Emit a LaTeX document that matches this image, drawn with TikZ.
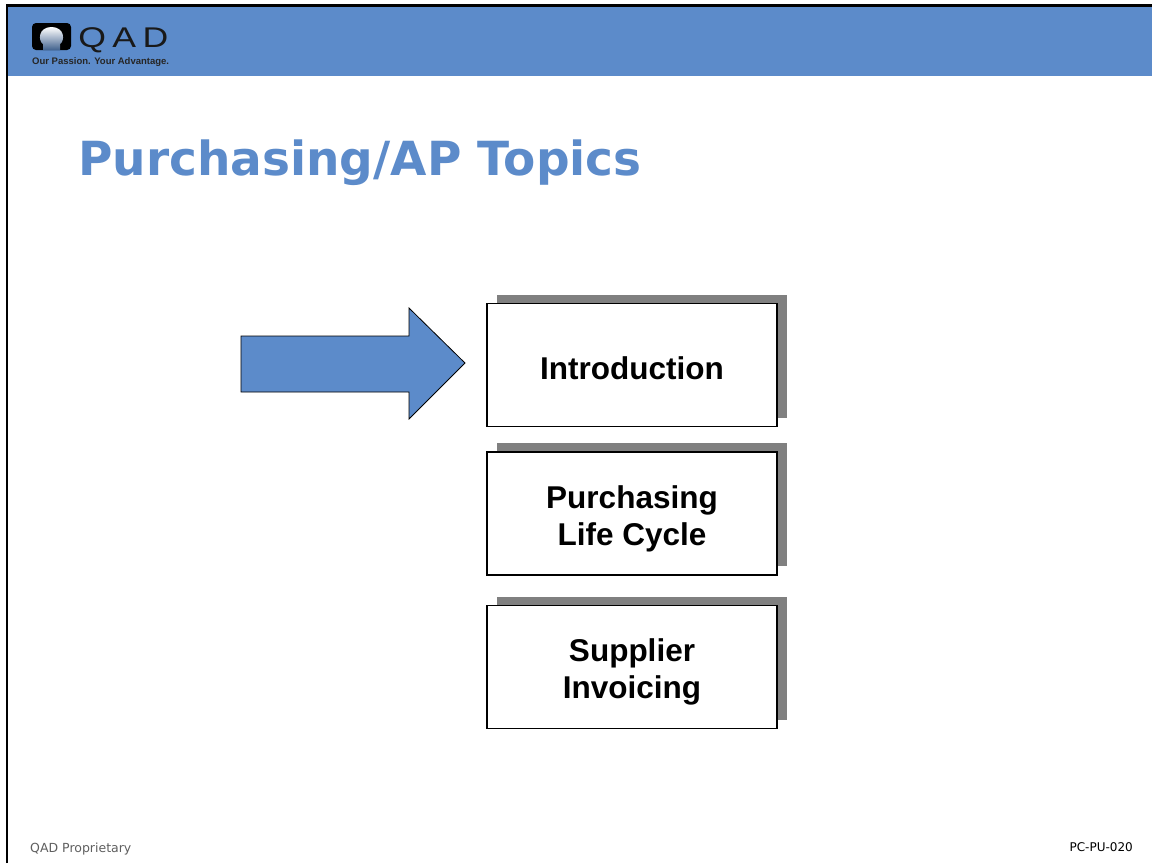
\documentclass[tikz,border=0pt]{standalone}
\usepackage{fontspec}
\setmainfont{Liberation Sans}
\newfontfamily\HeadFont{DejaVu Sans}
\usepackage{tikz}
\usetikzlibrary{shadows}
\usepackage{xcolor}
\definecolor{ColHead}{RGB}{92,139,202}
\definecolor{ColShade}{RGB}{128,128,128}
\definecolor{ColFoot}{RGB}{95,95,95}
\tikzstyle{TopicBox}=[draw=black,fill=white,line width=1.2pt,minimum width=290pt,
minimum height=123pt,align=center,font=\bfseries\fontsize{31.5}{37}\selectfont,
drop shadow={shadow xshift=10pt,shadow yshift=9pt,opacity=1,fill=ColShade}]
\tikzstyle{OneLine}=[text height=30pt]
\tikzstyle{TwoLine}=[text height=70pt]
\tikzstyle{FootText}=[inner sep=0pt,font=\HeadFont\fontsize{12.5}{14}\selectfont]
\begin{document}
\begin{tikzpicture}[x=1pt,y=-1pt]
        \useasboundingbox[fill=white](0,0)rectangle(1152,863);
        % header band and frame
        \fill[ColHead](8,6)rectangle(1152,76);
        \draw[line width=2.5pt](7,863)--(7,5.3)--(1152,5.3);
        % logo
        \fill[black,rounded corners=4pt](32,23)rectangle(71,50);
        \shade[top color=white,bottom color=ColHead!70!black](43,50)--(43,44)
            .. controls (38,41) and (38,27) .. (51.5,27)
            .. controls (65,27) and (65,41) .. (60,44)--(60,50)--cycle;
        \node[anchor=base west,inner sep=0pt,xscale=1.25,text=black!90,
            font=\fontsize{28.5}{30}\selectfont\addfontfeature{LetterSpace=18}](logo)at(78,47.5){QAD};
        \node[anchor=base west,inner sep=0pt,text=black!85,
            font=\bfseries\fontsize{9.5}{10}\selectfont](slogan)at(32,64){Our Passion. Your Advantage.};
        % title
        \node[anchor=base west,inner sep=0pt,text=ColHead,
            font=\HeadFont\bfseries\fontsize{47}{56}\selectfont](title)at(78,175){Purchasing/AP Topics};
        % topics
        \node[TopicBox,OneLine](intro)at(632,365){Introduction};
        \node[TopicBox,TwoLine](cycle)at(632,513.5){Purchasing\\Life Cycle};
        \node[TopicBox,TwoLine](invoice)at(632,667){Supplier\\Invoicing};
        % pointer
        \draw[fill=ColHead,line width=0.8pt,line join=miter](241,336)--(409,336)--(409,308)
            --(465,363)--(409,419)--(409,392)--(241,392)--cycle;
        % footer
        \node[FootText,anchor=base west,text=ColFoot](prop)at(30,852){QAD Proprietary};
        \node[FootText,anchor=base east,text=black,font=\HeadFont\fontsize{12}{13}\selectfont](code)at(1133,851){PC-PU-020};
    \end{tikzpicture}
\end{document}
